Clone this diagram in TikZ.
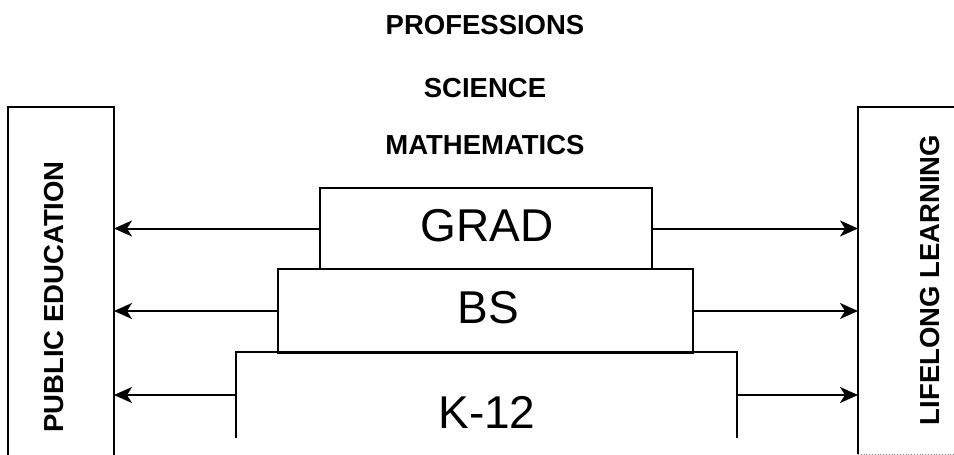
\documentclass[tikz,border=0pt]{standalone}
\usepackage{fontspec}
\setmainfont{Liberation Sans}
\usetikzlibrary{arrows.meta}
\begin{document}
\begin{tikzpicture}[x=1pt,y=-1pt,
  line width=2pt,
  lvl/.style={draw,rectangle,inner sep=0pt,font=\fontsize{45}{50}\selectfont},
  lvltext/.style={font=\fontsize{46}{50}\selectfont,inner sep=0pt},
  toplabel/.style={font=\bfseries\fontsize{27.5}{30}\selectfont,inner sep=0pt},
  sidelabel/.style={font=\bfseries\fontsize{27.5}{30}\selectfont,inner sep=0pt,rotate=90},
  flow/.style={line width=2pt,-{Stealth[length=18pt,width=16pt,inset=5pt]}}]
\useasboundingbox (0,0) rectangle (954,455);
\fill[white] (0,0) rectangle (954,455);
% side panels
\node[draw=none,minimum width=104pt,minimum height=347pt,inner sep=0pt] (pub) at (61,281.5) {};
\draw (pub.south west) -- (pub.north west) -- (pub.north east) -- (pub.south east);
\node[sidelabel] (publ) at (54,297) {PUBLIC EDUCATION};
\node[draw=none,minimum width=95pt,minimum height=345pt,inner sep=0pt] (life) at (906.5,280.5) {};
\draw (life.north east) -- (life.north west) -- (life.south west);
\draw[line width=0.8pt,gray,dotted] (life.south west) -- (life.south east);
\node[sidelabel] (lifel) at (930,280) {LIFELONG LEARNING};
% top captions
\node[toplabel] (prof) at (485,25) {PROFESSIONS};
\node[toplabel] (sci) at (485,88) {SCIENCE};
\node[toplabel] (math) at (485,145) {MATHEMATICS};
% levels
\node[lvl,minimum width=332pt,minimum height=81pt] (grad) at (486,228.5) {};
\node[lvltext] (gradt) at (487,226) {GRAD};
\node[lvl,minimum width=415pt,minimum height=84pt] (bs) at (485.5,311) {};
\node[lvltext] (bst) at (488,308) {BS};
\node[draw=none,minimum width=499pt,minimum height=84pt,inner sep=0pt] (k12) at (486.5,395) {};
\draw (k12.south west) -- (k12.north west) -- (k12.north east) -- (k12.south east);
\node[lvltext] (k12t) at (487,412) {K-12};
% connectors
\draw[flow] (grad.west) -- (grad.west -| pub.east);
\draw[flow] (bs.west) -- (bs.west -| pub.east);
\draw[flow] (k12.west) -- (k12.west -| pub.east);
\draw[flow] (grad.east) -- (grad.east -| life.west);
\draw[flow] (bs.east) -- (bs.east -| life.west);
\draw[flow] (k12.east) -- (k12.east -| life.west);
\end{tikzpicture}
\end{document}
